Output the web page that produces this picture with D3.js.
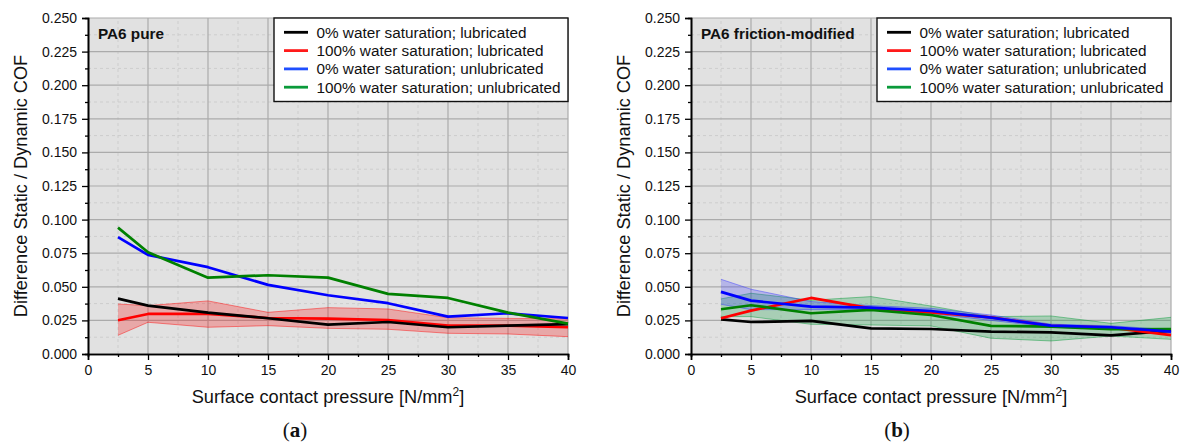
<!DOCTYPE html>
<html>
<head>
<meta charset="utf-8">
<script src="https://cdn.jsdelivr.net/npm/d3@7"></script>
<style>
  html, body { margin: 0; padding: 0; background: #ffffff; }
  svg { display: block; }
  text { font-family: "Liberation Sans", Arial, sans-serif; }
</style>
</head>
<body>
<svg id="chart" width="1183" height="447"></svg>
<script>
// Surface contact pressure [N/mm²]
const pressure = [2.5, 5, 10, 15, 20, 25, 30, 35, 40];

const seriesLabels = [
  "0% water saturation; lubricated",
  "100% water saturation; lubricated",
  "0% water saturation; unlubricated",
  "100% water saturation; unlubricated"
];
const lineColors = ["#000000", "#ff0000", "#0000ff", "#008000"];
const legendColors = ["#000000", "#ff1a1a", "#1f4fff", "#0a9a3a"];

const yTickValues = [0, 0.025, 0.05, 0.075, 0.1, 0.125, 0.15, 0.175, 0.2, 0.225, 0.25];
const xTickValues = [0, 5, 10, 15, 20, 25, 30, 35, 40];

// PA6 pure
const pureDryLub    = [0.0412, 0.0360, 0.0308, 0.0266, 0.0218, 0.0238, 0.0199, 0.0211, 0.0223];
const pureWetLub    = [0.0251, 0.0298, 0.0298, 0.0268, 0.0263, 0.0253, 0.0211, 0.0211, 0.0199];
const pureDryUnlub  = [0.0869, 0.0737, 0.0646, 0.0514, 0.0437, 0.0378, 0.0278, 0.0303, 0.0268];
const pureWetUnlub  = [0.0940, 0.0757, 0.0568, 0.0586, 0.0568, 0.0447, 0.0417, 0.0308, 0.0226];
const pureWetLubLow  = [0.0139, 0.0236, 0.0199, 0.0211, 0.0191, 0.0184, 0.0154, 0.0149, 0.0129];
const pureWetLubHigh = [0.0372, 0.0360, 0.0395, 0.0310, 0.0345, 0.0335, 0.0270, 0.0265, 0.0262];

// PA6 friction-modified
const modDryLub    = [0.0258, 0.0238, 0.0246, 0.0191, 0.0186, 0.0166, 0.0161, 0.0139, 0.0174];
const modWetLub    = [0.0266, 0.0323, 0.0417, 0.0340, 0.0310, 0.0272, 0.0209, 0.0196, 0.0141];
const modDryUnlub  = [0.0462, 0.0397, 0.0352, 0.0345, 0.0320, 0.0270, 0.0211, 0.0199, 0.0166];
const modWetUnlub  = [0.0333, 0.0363, 0.0303, 0.0328, 0.0290, 0.0209, 0.0204, 0.0184, 0.0186];
const modDryUnlubLow  = [0.0370, 0.0330, 0.0330, 0.0330, 0.0300, 0.0250, 0.0200, 0.0185, 0.0155];
const modDryUnlubHigh = [0.0556, 0.0482, 0.0390, 0.0360, 0.0340, 0.0290, 0.0222, 0.0210, 0.0180];
const modWetUnlubLow  = [0.0278, 0.0278, 0.0221, 0.0216, 0.0209, 0.0117, 0.0097, 0.0134, 0.0109];
const modWetUnlubHigh = [0.0410, 0.0452, 0.0400, 0.0427, 0.0357, 0.0278, 0.0283, 0.0228, 0.0273];

const svg = d3.select("#chart");

const plotTop = 18, plotBottom = 354;

const panels = [
  {
    left: 88, title: "PA6 pure", tag: "a", tagX: 295,
    lines: [pureWetLub, pureDryLub, pureDryUnlub, pureWetUnlub],
    lineIdx: [1, 0, 2, 3],
    bands: [{ low: pureWetLubLow, high: pureWetLubHigh, color: "#ff0000" }]
  },
  {
    left: 691, title: "PA6 friction-modified", tag: "b", tagX: 897,
    lines: [modDryLub, modWetLub, modWetUnlub, modDryUnlub],
    lineIdx: [0, 1, 3, 2],
    bands: [
      { low: modWetUnlubLow, high: modWetUnlubHigh, color: "#009933" },
      { low: modDryUnlubLow, high: modDryUnlubHigh, color: "#3333ff" }
    ]
  }
];

panels.forEach(p => {
  const x = d3.scaleLinear().domain([0, 40]).range([p.left, p.left + 480]);
  const y = d3.scaleLinear().domain([0, 0.25]).range([plotBottom, plotTop]);
  const g = svg.append("g");

  // plot background
  g.append("rect")
    .attr("x", x(0)).attr("y", y(0.25))
    .attr("width", x(40) - x(0)).attr("height", y(0) - y(0.25))
    .attr("fill", "#e1e1e1");

  // minor grid (dashed)
  const xMinor = d3.range(2.5, 40, 5);
  const yMinor = d3.range(0.0125, 0.25, 0.025);
  g.selectAll(".xminor").data(xMinor).join("line")
    .attr("x1", d => x(d)).attr("x2", d => x(d))
    .attr("y1", y(0)).attr("y2", y(0.25))
    .attr("stroke", "#cdcdcd").attr("stroke-width", 1).attr("stroke-dasharray", "3,3");
  g.selectAll(".yminor").data(yMinor).join("line")
    .attr("x1", x(0)).attr("x2", x(40))
    .attr("y1", d => y(d)).attr("y2", d => y(d))
    .attr("stroke", "#cdcdcd").attr("stroke-width", 1).attr("stroke-dasharray", "3,3");

  // major grid
  g.selectAll(".xmajor").data(xTickValues.slice(1)).join("line")
    .attr("x1", d => x(d)).attr("x2", d => x(d))
    .attr("y1", y(0)).attr("y2", y(0.25))
    .attr("stroke", "#ababab").attr("stroke-width", 1.2);
  g.selectAll(".ymajor").data(yTickValues.slice(1)).join("line")
    .attr("x1", x(0)).attr("x2", x(40))
    .attr("y1", d => y(d)).attr("y2", d => y(d))
    .attr("stroke", "#ababab").attr("stroke-width", 1.2);

  // confidence bands
  p.bands.forEach(b => {
    const area = d3.area()
      .x((d, i) => x(pressure[i]))
      .y0((d, i) => y(b.low[i]))
      .y1((d, i) => y(b.high[i]));
    g.append("path").datum(b.low).attr("d", area)
      .attr("fill", b.color).attr("fill-opacity", 0.25);
    [b.low, b.high].forEach(edge => {
      g.append("path").datum(edge)
        .attr("d", d3.line().x((d, i) => x(pressure[i])).y(d => y(d)))
        .attr("fill", "none").attr("stroke", b.color)
        .attr("stroke-opacity", 0.45).attr("stroke-width", 1);
    });
  });

  // mean lines
  const line = d3.line().x((d, i) => x(pressure[i])).y(d => y(d));
  p.lines.forEach((vals, k) => {
    g.append("path").datum(vals).attr("d", line)
      .attr("fill", "none")
      .attr("stroke", lineColors[p.lineIdx[k]])
      .attr("stroke-width", 2.7)
      .attr("stroke-linejoin", "round");
  });

  // axes
  const xAxis = d3.axisBottom(x).tickValues(xTickValues).tickSize(6).tickPadding(5).tickFormat(d3.format("d"));
  const xMinorAxis = d3.axisBottom(x).tickValues(xMinor).tickSize(3).tickFormat("");
  const yAxis = d3.axisLeft(y).tickValues(yTickValues).tickSize(6).tickPadding(5).tickFormat(d3.format(".3f"));
  const yMinorAxis = d3.axisLeft(y).tickValues(yMinor).tickSize(3).tickFormat("");

  [xAxis, xMinorAxis].forEach(ax => {
    const a = g.append("g").attr("transform", `translate(0,${plotBottom})`).call(ax);
    a.select(".domain").attr("stroke", "#000").attr("stroke-width", 1.6);
    a.selectAll(".tick line").attr("stroke", "#000").attr("stroke-width", 1.3);
    a.selectAll("text").attr("font-size", 14).attr("fill", "#111");
  });
  [yAxis, yMinorAxis].forEach(ax => {
    const a = g.append("g").attr("transform", `translate(${p.left},0)`).call(ax);
    a.select(".domain").attr("stroke", "#000").attr("stroke-width", 1.6);
    a.selectAll(".tick line").attr("stroke", "#000").attr("stroke-width", 1.3);
    a.selectAll("text").attr("font-size", 14).attr("fill", "#111");
  });

  // axis titles
  g.append("text")
    .attr("transform", `translate(${p.left - 67},${(plotTop + plotBottom) / 2}) rotate(-90)`)
    .attr("text-anchor", "middle").attr("dominant-baseline", "central")
    .attr("font-size", 18.2).attr("fill", "#111")
    .text("Difference Static / Dynamic COF");

  const xt = g.append("text")
    .attr("x", x(20)).attr("y", 403)
    .attr("text-anchor", "middle")
    .attr("font-size", 18.2).attr("fill", "#111");
  xt.append("tspan").text("Surface contact pressure [N/mm");
  xt.append("tspan").attr("font-size", 12).attr("dy", -7).text("2");
  xt.append("tspan").attr("dy", 7).text("]");

  // panel title
  g.append("text")
    .attr("x", p.left + 10).attr("y", 39)
    .attr("font-size", 15.3).attr("font-weight", "bold").attr("fill", "#111")
    .text(p.title);

  // legend
  const lg = g.append("g").attr("transform", `translate(${x(40) - 294},${plotTop})`);
  lg.append("rect").attr("x", 0).attr("y", 0).attr("width", 294).attr("height", 83.5)
    .attr("fill", "#ffffff").attr("stroke", "#111").attr("stroke-width", 1.4);
  seriesLabels.forEach((lab, i) => {
    const cy = 14.3 + i * 18.3;
    lg.append("line").attr("x1", 10).attr("x2", 34).attr("y1", cy).attr("y2", cy)
      .attr("stroke", legendColors[i]).attr("stroke-width", 2.8);
    lg.append("text").attr("x", 42.5).attr("y", cy).attr("dy", "0.35em")
      .attr("font-size", 15.3).attr("fill", "#111").text(lab);
  });

  // sub-figure tag
  const tg = g.append("text")
    .attr("x", p.tagX).attr("y", 437)
    .attr("text-anchor", "middle")
    .style("font-family", "'Liberation Serif', 'DejaVu Serif', serif")
    .attr("font-size", 21).attr("fill", "#111");
  tg.append("tspan").text("(");
  tg.append("tspan").attr("font-weight", "bold").text(p.tag);
  tg.append("tspan").text(")");
});
</script>
</body>
</html>
